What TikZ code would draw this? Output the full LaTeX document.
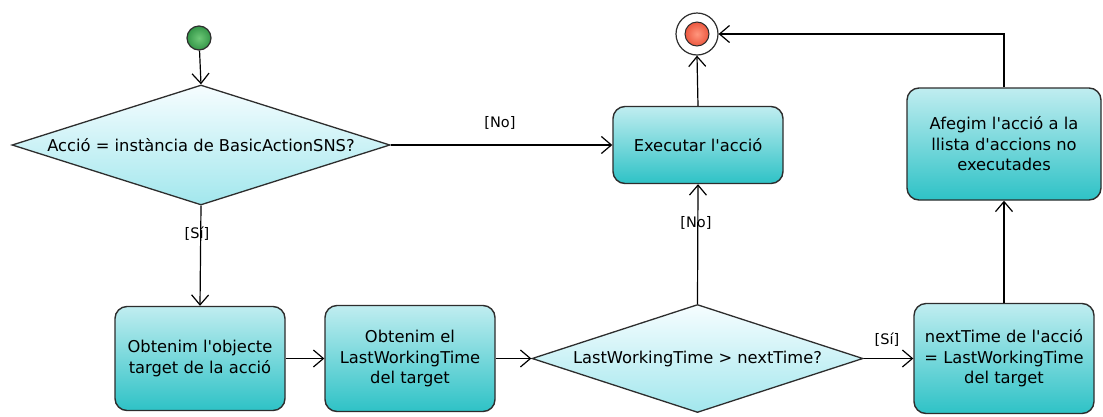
\documentclass[tikz,border=0pt]{standalone}
\usepackage{fontspec}
\setmainfont{DejaVu Sans}[Ligatures=TeXOff]
\usetikzlibrary{shapes.geometric,arrows.meta}
\definecolor{boxtop}{RGB}{192,237,240}
\definecolor{boxbot}{RGB}{46,194,198}
\definecolor{dtop}{RGB}{246,253,255}
\definecolor{dbot}{RGB}{162,231,237}
\definecolor{edgegray}{RGB}{45,45,45}
\definecolor{startgreen}{RGB}{52,150,72}
\definecolor{startlight}{RGB}{110,200,120}
\definecolor{endred}{RGB}{236,88,64}
\definecolor{endlight}{RGB}{255,150,125}
\begin{document}
\begin{tikzpicture}[x=1pt,y=-1pt,
  action/.style={rectangle, rounded corners=12pt, draw=edgegray, line width=1.4pt,
    top color=boxtop, bottom color=boxbot, align=center, inner sep=0pt,
    font=\fontsize{16.3}{20.5}\selectfont},
  decision/.style={diamond, draw=edgegray, line width=1.3pt,
    top color=dtop, bottom color=dbot, inner sep=0pt},
  dlabel/.style={font=\fontsize{16.3}{20.5}\selectfont, inner sep=0pt},
  flow/.style={draw=black, line width=1.2pt,
    -{Straight Barb[length=10pt,width=17pt,line width=1.2pt]}},
  guard/.style={font=\fontsize{14.5}{16}\selectfont, inner sep=0pt}]
  \useasboundingbox (0,0) rectangle (1103,416);
  \fill[white] (0,0) rectangle (1103,416);

  % initial and final states
  \node[circle, draw=edgegray, line width=1.2pt, minimum size=24pt, inner sep=0pt,
        inner color=startlight, outer color=startgreen] (start) at (199,38) {};
  \node[circle, draw=edgegray, line width=1.2pt, minimum size=42pt, inner sep=0pt,
        fill=white] (end) at (697,34) {};
  \node[circle, draw=edgegray, line width=1.0pt, minimum size=24pt, inner sep=0pt,
        inner color=endlight, outer color=endred] (endcore) at (end) {};

  % decisions
  \node[decision, minimum width=378pt, minimum height=120pt] (d1) at (201,145) {};
  \node[dlabel] (d1t) at (d1) {Acció = instància de BasicActionSNS?};
  \node[decision, minimum width=331pt, minimum height=108pt] (d2) at (697.5,358.5) {};
  \node[dlabel] (d2t) at (d2) {LastWorkingTime > nextTime?};

  % actions
  \node[action, minimum width=170pt, minimum height=104pt] (get) at (200,358.5)
    {Obtenim l'objecte\\target de la acció};
  \node[action, minimum width=170pt, minimum height=106pt] (lwt) at (410,358.5)
    {Obtenim el\\LastWorkingTime\\del target};
  \node[action, minimum width=170pt, minimum height=77pt] (exec) at (698,145)
    {Executar l'acció};
  \node[action, minimum width=194pt, minimum height=112pt] (add) at (1004,144)
    {Afegim l'acció a la\\llista d'accions no\\executades};
  \node[action, minimum width=180pt, minimum height=110pt] (next) at (1004,358.5)
    {nextTime de l'acció\\= LastWorkingTime\\del target};

  % control flow
  \draw[flow] (start) -- (d1.north);
  \draw[flow] (d1.east) -- (exec.west);
  \draw[flow] (d1.south) -- (get.north);
  \draw[flow] (get.east) -- (lwt.west);
  \draw[flow] (lwt.east) -- (d2.west);
  \draw[flow] (d2.north) -- (exec.south);
  \draw[flow] (d2.east) -- (next.west);
  \draw[flow] (next.north) -- (add.south);
  \draw[flow] (add.north) |- (end.east);
  \draw[flow] (exec.north) -- (end.south);

  % guards
  \node[guard] (g1) at (500,123) {[No]};
  \node[guard] (g2) at (197,234) {[Sí]};
  \node[guard] (g3) at (696,223) {[No]};
  \node[guard] (g4) at (887,340) {[Sí]};
\end{tikzpicture}
\end{document}
